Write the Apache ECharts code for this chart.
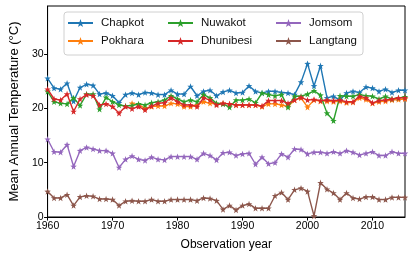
<!DOCTYPE html>
<html>
<head>
<meta charset="utf-8">
<script src="https://cdn.jsdelivr.net/npm/echarts@6/dist/echarts.min.js"></script>
<style>
  html, body { margin: 0; padding: 0; background: #fff; }
  #chart { width: 409px; height: 257px; }
</style>
</head>
<body>
<div id="chart"></div>
<script>
// annual series, one value per year 1960..2015
let firstYear = 1960
let lastYear = 2015
let years = []
for (let y = firstYear; y <= lastYear; y++) years.push(y)

let chapkot = [25.5, 23.7, 23.5, 24.6, 21.3, 23.8, 24.4, 24.2, 22.6, 22.8,
  22.3, 21.0, 22.5, 22.8, 22.5, 22.9, 22.8, 22.5, 22.5, 23.3,
  22.6, 22.6, 24.0, 22.3, 23.1, 23.3, 22.3, 23.0, 23.3, 22.8,
  22.9, 24.1, 23.1, 22.8, 23.1, 23.1, 22.9, 22.8, 22.5, 24.8,
  28.2, 24.1, 27.8, 21.9, 22.2, 21.5, 22.8, 23.1, 22.9, 23.9,
  23.7, 23.1, 23.5, 22.9, 23.3, 23.3]

let pokhara = [null, null, null, null, null, null, null, null, null, null,
  null, null, null, 20.9, 20.6, 20.0, 20.3, 20.4, 20.4, 20.9,
  20.8, 20.3, 20.3, 20.6, 21.2, 20.9, 20.8, 20.9, 20.8, 20.6,
  20.6, 20.6, 20.6, 20.3, 20.8, 20.8, 20.6, 20.3, 21.5, 21.9,
  20.2, 21.5, 21.3, 21.3, 21.2, 21.3, 21.0, 21.1, 21.9, 21.6,
  20.9, 21.2, 21.3, 21.5, 21.6, 21.7]

let nuwakot = [23.1, 21.2, 20.9, 20.8, 21.9, 20.5, 22.6, 22.6, 19.8, 22.0,
  21.2, 20.6, 20.4, 20.5, 20.8, 20.6, 21.0, 21.2, 21.5, 22.3,
  21.7, 21.2, 21.5, 21.2, 22.5, 21.9, 20.9, 20.8, 20.2, 21.5,
  21.5, 21.7, 21.0, 22.8, 22.5, 22.3, 22.5, 20.2, 22.2, 22.2,
  22.6, 23.2, 22.4, 19.1, 17.7, 22.3, 22.2, 22.2, 22.5, 22.3,
  22.2, 21.7, 22.2, 21.7, 21.9, 22.1]

let dhunibesi = [23.5, 21.7, 21.5, 22.6, 19.4, 21.7, 22.5, 22.3, 20.6, 20.8,
  20.3, 19.1, 20.3, 19.9, 20.3, 19.7, 20.4, 20.9, 21.0, 21.9,
  21.2, 20.6, 20.6, 20.3, 21.9, 21.5, 20.6, 20.9, 20.8, 20.6,
  20.6, 20.6, 20.6, 20.4, 21.4, 21.4, 21.4, 20.9, 21.5, 22.0,
  21.5, 21.6, 21.4, 21.5, 21.4, 21.5, 21.2, 21.2, 22.2, 21.9,
  21.0, 21.4, 21.5, 21.7, 21.9, 21.9]

let jomsom = [14.3, 12.0, 11.9, 13.3, 9.3, 12.2, 12.8, 12.5, 12.2, 12.2,
  11.7, 9.1, 10.6, 11.2, 10.6, 10.4, 11.0, 10.6, 10.5, 11.1,
  11.1, 11.1, 11.1, 10.6, 11.7, 11.3, 10.5, 11.8, 11.9, 11.3,
  11.6, 11.7, 9.7, 11.0, 9.8, 10.0, 11.6, 11.0, 12.5, 12.4,
  11.6, 11.9, 11.9, 11.7, 12.0, 11.7, 12.2, 11.9, 11.4, 11.7,
  12.0, 11.3, 11.3, 12.0, 11.7, 11.7]

let langtang = [4.7, 3.5, 3.5, 4.1, 2.1, 3.7, 3.9, 3.8, 3.3, 3.3,
  3.2, 2.1, 2.9, 3.0, 2.9, 2.9, 3.2, 2.9, 2.9, 3.2,
  3.2, 3.2, 3.2, 3.0, 3.5, 3.4, 3.0, 1.4, 2.1, 1.3,
  2.1, 2.4, 1.6, 1.6, 1.6, 3.9, 4.5, 3.2, 5.0, 5.3,
  4.7, 0.2, 6.3, 5.1, 4.4, 3.2, 4.4, 3.5, 3.3, 3.7,
  3.7, 3.2, 3.2, 3.6, 3.6, 3.6]

let stations = ['Chapkot', 'Pokhara', 'Nuwakot', 'Dhunibesi', 'Jomsom', 'Langtang']
let values = [chapkot, pokhara, nuwakot, dhunibesi, jomsom, langtang]
let colors = ['#1f77b4', '#ff7f0e', '#2ca02c', '#d62728', '#9467bd', '#8c564b']
let xTicks = [1960, 1970, 1980, 1990, 2000, 2010]
let yTicks = [0, 10, 20, 30]

let font = "'Liberation Sans', Arial, sans-serif"
let star = 'path://M0,-10L2.35,-3.24L9.51,-3.09L3.8,1.24L5.88,8.09L0,4L-5.88,8.09L-3.8,1.24L-9.51,-3.09L-2.35,-3.24Z'

let chart = echarts.init(document.getElementById('chart'), null, {renderer: 'canvas'})

function legendCol(names, left) {
  return {
    data: names,
    orient: 'vertical',
    left: left,
    top: 17,
    padding: 0,
    itemWidth: 25,
    itemHeight: 10,
    itemGap: 6,
    textStyle: {fontFamily: font, fontSize: 11.5, color: '#111', padding: [0, 0, 0, 3]}
  }
}

let option = {
  animation: false,
  backgroundColor: '#fff',
  grid: {left: 32, right: 4, top: 6, bottom: 40, show: true, borderColor: '#000', borderWidth: 1},
  graphic: [{
    type: 'rect',
    shape: {x: 64, y: 12, width: 299, height: 43, r: 3},
    style: {fill: 'rgba(255,255,255,0.8)', stroke: '#d0d0d0', lineWidth: 1},
    z: 3
  }],
  legend: [
    legendCol(['Chapkot', 'Pokhara'], 67),
    legendCol(['Nuwakot', 'Dhunibesi'], 167),
    legendCol(['Jomsom', 'Langtang'], 275)
  ],
  xAxis: {
    type: 'value',
    min: firstYear,
    max: lastYear,
    interval: 10,
    name: 'Observation year',
    nameLocation: 'middle',
    nameGap: 22,
    nameTextStyle: {fontFamily: font, fontSize: 12, color: '#000'},
    axisLine: {lineStyle: {color: '#000', width: 1}},
    axisTick: {inside: false, length: 3.5, lineStyle: {color: '#000'}, customValues: xTicks},
    axisLabel: {fontFamily: font, fontSize: 10.5, color: '#000', margin: 4, customValues: xTicks,
      formatter: function (v) { return String(v) }},
    splitLine: {show: false}
  },
  yAxis: {
    type: 'value',
    min: 0,
    max: 38.8,
    interval: 10,
    name: 'Mean Annual Temperature (°C)',
    nameLocation: 'middle',
    nameGap: 20,
    nameTextStyle: {fontFamily: font, fontSize: 13, color: '#000'},
    axisLine: {show: true, lineStyle: {color: '#000', width: 1}},
    axisTick: {show: true, inside: false, length: 3.5, lineStyle: {color: '#000'}, customValues: yTicks},
    axisLabel: {fontFamily: font, fontSize: 10.5, color: '#000', margin: 4, customValues: yTicks},
    splitLine: {show: false}
  },
  series: stations.map(function (name, k) {
    return {
      name: name,
      type: 'line',
      data: years.map(function (y, i) { return [y, values[k][i]] }),
      color: colors[k],
      symbol: star,
      symbolSize: 6.5,
      showSymbol: true,
      lineStyle: {width: 1.4},
      itemStyle: {color: colors[k]},
      connectNulls: false,
      z: 2 + k * 0.01
    }
  })
}

chart.setOption(option)
</script>
</body>
</html>
